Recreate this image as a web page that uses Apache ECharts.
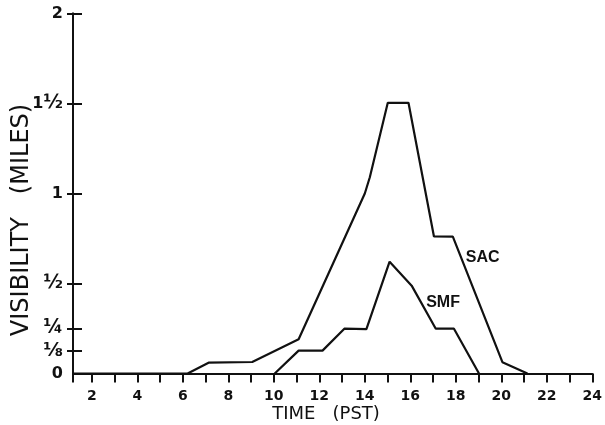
<!DOCTYPE html>
<html><head><meta charset="utf-8">
<script src="https://cdn.jsdelivr.net/npm/echarts@6/dist/echarts.min.js"></script>
<style>html,body{margin:0;padding:0;background:#fff}#c{width:605px;height:425px}</style>
</head><body><div id="c"></div>
<script>
// ---- data ----
const xMin = 1.17;   // where the vertical axis meets the time axis
const xMax = 24;
const sacHours = [1.17, 6.21, 7.13, 9.05, 11.09, 14.0, 14.22, 15.01, 15.92, 17.04, 17.87, 20.05, 21.15];
const sacVis   = [0,    0,    0.06, 0.064, 0.19, 1.0,  1.09,  1.504, 1.504, 0.761, 0.76,  0.063, 0];
const smfHours = [10.04, 11.09, 12.14, 13.10, 14.07, 15.09, 16.06, 17.12, 17.92, 19.02];
const smfVis   = [0,     0.127, 0.127, 0.249, 0.246, 0.621, 0.488, 0.249, 0.249, 0];
const xTickValues  = [xMin, 2,3,4,5,6,7,8,9,10,11,12,13,14,15,16,17,18,19,20,21,22,23,24];
const xLabelValues = [2,4,6,8,10,12,14,16,18,20,22,24];
const yTickValues  = [0.125, 0.25, 0.5, 1, 1.5, 2];
const yLabelValues = [0, 0.125, 0.25, 0.5, 1, 1.5, 2];
const yLabelTexts  = ['0', '{f|\u215B}', '{f|\u00BC}', '{f|\u00BD}', '1', '1{f|\u00BD}', '2'];
const seriesNames  = ['SAC', 'SMF'];
const sacLabelAt = [19.18, 0.642];
const smfLabelAt = [17.44, 0.394];

const ink = '#111';
const zip = (a, b) => a.map((v, i) => [v, b[i]]);

const chart = echarts.init(document.getElementById('c'), null, {renderer: 'canvas'});
const yLabelFmt = v => {
  const i = yLabelValues.findIndex(t => Math.abs(t - v) < 1e-6);
  return i >= 0 ? yLabelTexts[i] : '';
};
const labelStyle = {color: ink, fontSize: 16, fontFamily: 'Liberation Sans', fontWeight: 'bold'};
const gridRect = {left: 73, right: 9, top: 13.5, bottom: 51.5, containLabel: false};

chart.setOption({
  animation: false,
  backgroundColor: '#fff',
  grid: [Object.assign({}, gridRect), Object.assign({}, gridRect)],
  xAxis: [{
    type: 'value', min: xMin, max: xMax, gridIndex: 0,
    axisLine: {show: true, onZero: false, lineStyle: {color: ink, width: 2}},
    axisTick: {show: true, inside: false, length: 9, customValues: xTickValues, lineStyle: {color: ink, width: 2}},
    axisLabel: {show: true, customValues: xLabelValues, margin: 16, color: ink, fontSize: 14, fontWeight: 'bold', fontFamily: 'DejaVu Sans'},
    splitLine: {show: false}
  }, {
    type: 'value', min: xMin, max: xMax, gridIndex: 1, show: false
  }],
  yAxis: [{
    type: 'value', min: 0, max: 2, gridIndex: 0, position: 'left',
    axisLine: {show: true, onZero: false, lineStyle: {color: ink, width: 2}},
    axisTick: {show: true, inside: false, length: 6, customValues: yTickValues, lineStyle: {color: ink, width: 2}},
    axisLabel: {show: true, customValues: yLabelValues, margin: 10, color: ink, fontSize: 16, fontWeight: 'bold', fontFamily: 'DejaVu Sans', formatter: yLabelFmt,
      rich: {f: {fontSize: 19, fontWeight: 'bold', fontFamily: 'DejaVu Sans', color: ink}}},
    splitLine: {show: false}
  }, {
    type: 'value', min: 0, max: 2, gridIndex: 1, position: 'left',
    axisLine: {show: true, onZero: false, lineStyle: {color: ink, width: 2}},
    axisTick: {show: true, inside: true, length: 9, customValues: yTickValues, lineStyle: {color: ink, width: 2}},
    axisLabel: {show: false},
    splitLine: {show: false}
  }],
  series: [{
    name: seriesNames[0], type: 'line', xAxisIndex: 0, yAxisIndex: 0, data: zip(sacHours, sacVis),
    symbol: 'none', lineStyle: {color: ink, width: 2.2}, z: 3,
    markPoint: {symbol: 'circle', symbolSize: 0, silent: true,
      label: Object.assign({show: true, position: 'inside', formatter: seriesNames[0]}, labelStyle),
      data: [{coord: sacLabelAt}]}
  }, {
    name: seriesNames[1], type: 'line', xAxisIndex: 0, yAxisIndex: 0, data: zip(smfHours, smfVis),
    symbol: 'none', lineStyle: {color: ink, width: 2.2}, z: 3,
    markPoint: {symbol: 'circle', symbolSize: 0, silent: true,
      label: Object.assign({show: true, position: 'inside', formatter: seriesNames[1]}, labelStyle),
      data: [{coord: smfLabelAt}]}
  }, {
    name: 'ticks', type: 'line', xAxisIndex: 1, yAxisIndex: 1, data: [], silent: true
  }],
  graphic: [{
    type: 'text', x: 21.5, y: 220, rotation: Math.PI / 2,
    style: {text: 'VISIBILITY   (MILES)', fill: ink, fontSize: 24, fontFamily: 'DejaVu Sans',
      align: 'center', verticalAlign: 'middle', textAlign: 'center', textVerticalAlign: 'middle'}
  }, {
    type: 'text', x: 326, y: 414,
    style: {text: 'TIME   (PST)', fill: ink, fontSize: 18, fontFamily: 'DejaVu Sans',
      align: 'center', verticalAlign: 'middle', textAlign: 'center', textVerticalAlign: 'middle'}
  }]
});
</script>
</body></html>
